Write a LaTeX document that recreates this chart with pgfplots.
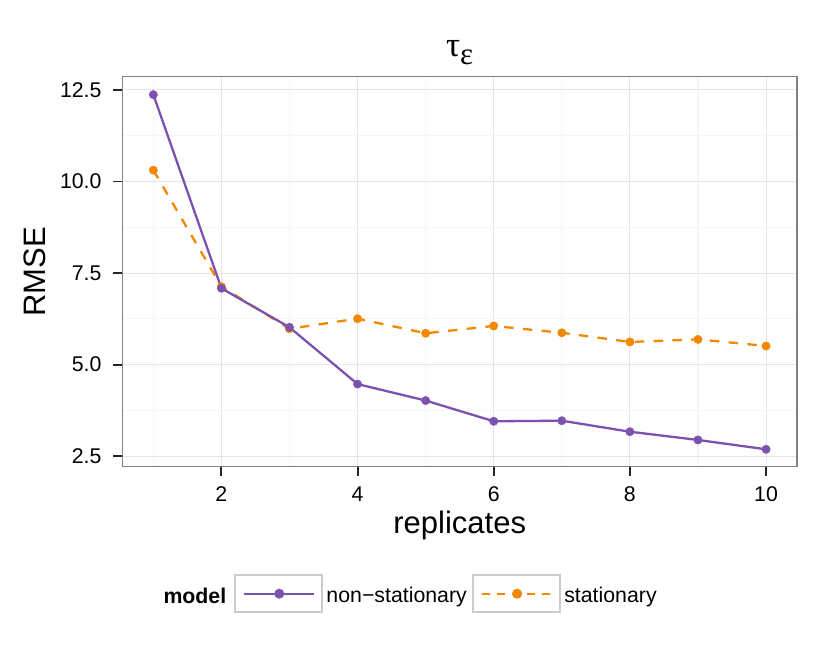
\documentclass[border=0pt]{standalone}
\usepackage{fontspec}
\setmainfont{Liberation Sans}
\newfontfamily\greekserif{Liberation Serif}
\usepackage{pgfplots}
\pgfplotsset{compat=1.18}
\definecolor{nsc}{RGB}{123,82,174}
\definecolor{stc}{RGB}{242,135,0}
\definecolor{gridmaj}{RGB}{229,229,229}
\definecolor{gridmin}{RGB}{246,246,246}
\newcommand{\ticksize}{\fontsize{21.3pt}{25pt}\selectfont}
\newcommand{\labsize}{\fontsize{31pt}{36pt}\selectfont}
\pgfplotsset{boxlegend/.style={legend image code/.code={
    \draw[solid, draw=black!20, line width=2pt, fill=white] (-9pt,-18.7pt) rectangle (77.7pt,18.7pt);
    \draw[mark repeat=2, mark phase=2, ##1] plot coordinates {(0pt,0pt) (35.3pt,0pt) (70pt,0pt)};
  }}}
\begin{document}
\begin{tikzpicture}
\path[use as bounding box] (0,0) rectangle (830pt,664pt);
\begin{axis}[
  at={(122.7pt,197.3pt)}, anchor=south west,
  scale only axis, width=674pt, height=390pt,
  xmin=0.55, xmax=10.45, ymin=2.215, ymax=12.86,
  xtick={2,4,6,8,10}, ytick={2.5,5,7.5,10,12.5},
  minor xtick={1,3,5,7,9}, minor ytick={3.75,6.25,8.75,11.25},
  grid=both,
  major grid style={draw=gridmaj, line width=0.95pt},
  minor grid style={draw=gridmin, line width=1.1pt},
  tick pos=left, tick align=outside,
  major tick length=9.5pt, minor tick length=0pt,
  tick style={black!85, line width=1.9pt},
  axis line style={draw=black!50, line width=1.6pt},
  /pgf/number format/assume math mode=true,
  tick label style={font=\ticksize, inner sep=0pt},
  xticklabel style={anchor=north, yshift=-10pt},
  yticklabel style={anchor=east, xshift=-11.5pt, /pgf/number format/fixed, /pgf/number format/fixed zerofill, /pgf/number format/precision=1},
  xlabel={replicates}, ylabel={RMSE},
  label style={font=\labsize, inner sep=0pt},
  xlabel style={at={(axis description cs:0.5,-0.17256)}, anchor=base},
  ylabel style={at={(axis description cs:-0.11528,0.5)}, anchor=base},
  title={{\greekserif\fontsize{35pt}{40pt}\selectfont τ}\raisebox{-8.5pt}{\greekserif\fontsize{31pt}{36pt}\selectfont ε}},
  title style={at={(axis description cs:0.5,1.037)}, anchor=base, inner sep=0pt},
  legend style={at={(0.16513,-0.32564)}, anchor=west, draw=none, fill=none,
    inner sep=0pt, outer sep=0pt, font=\ticksize, nodes={inner sep=0pt, yshift=-2pt},
    /tikz/every odd column/.style={column sep=3.8pt},
    /tikz/every even column/.style={column sep=5pt}},
  legend columns=2, legend cell align=left,
]
% lines
\addplot[forget plot, color=stc, line width=2.3pt, dash pattern=on 9.4pt off 9.4pt] coordinates {
(1,10.31) (2,7.13) (3,5.98) (4,6.255) (5,5.857) (6,6.056) (7,5.87) (8,5.62) (9,5.69) (10,5.51)};
\addplot[forget plot, color=nsc, line width=2.3pt] coordinates {
(1,12.37) (2,7.085) (3,6.02) (4,4.47) (5,4.02) (6,3.455) (7,3.47) (8,3.17) (9,2.945) (10,2.69)};
% points
\addplot[forget plot, only marks, mark=*, mark size=4.2pt, color=stc, mark options={solid, draw=none, fill=stc}] coordinates {
(1,10.31) (2,7.13) (3,5.98) (4,6.255) (5,5.857) (6,6.056) (7,5.87) (8,5.62) (9,5.69) (10,5.51)};
\addplot[forget plot, only marks, mark=*, mark size=4.2pt, color=nsc, mark options={solid, draw=none, fill=nsc}] coordinates {
(1,12.37) (2,7.085) (3,6.02) (4,4.47) (5,4.02) (6,3.455) (7,3.47) (8,3.17) (9,2.945) (10,2.69)};
% legend
\addlegendimage{boxlegend, color=nsc, line width=2.3pt, mark=*, mark size=3.8pt, mark options={solid, draw=none, fill=nsc}}
\addlegendentry{non−stationary}
\addlegendimage{boxlegend, color=stc, line width=2.3pt, dash pattern=on 8pt off 7pt, mark=*, mark size=3.8pt, mark options={solid, draw=none, fill=stc}}
\addlegendentry{stationary}
\end{axis}
\node[anchor=base west, inner sep=0pt, font=\ticksize\bfseries] at (163.3pt,60.7pt) {model};
\end{tikzpicture}
\end{document}
